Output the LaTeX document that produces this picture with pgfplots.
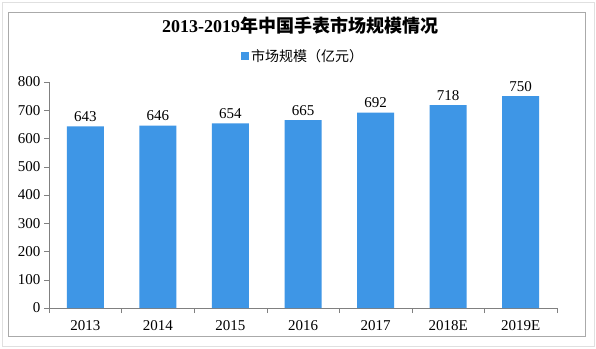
\documentclass[border=0pt]{standalone}
\usepackage{fontspec}
\setmainfont{Liberation Serif}
\newfontfamily\cjk{Noto Sans CJK SC}
\usepackage{pgfplots}
\pgfplotsset{compat=1.18}
\definecolor{barblue}{RGB}{62,150,230}
\definecolor{axgray}{RGB}{128,128,128}
\definecolor{framegray}{RGB}{170,170,170}
\begin{document}
\begin{tikzpicture}[x=1pt,y=1pt]
\useasboundingbox (0,0) rectangle (596,348);
\fill[white] (0,0) rectangle (596,348);
\draw[black!12, line width=1pt] (2,2) rectangle (594,345);
\draw[framegray, line width=0.8pt] (8,12) rectangle (585,336);
\node[font=\bfseries\fontsize{18}{20}\selectfont] at (300,322) {2013-2019{\cjk 年中国手表市场规模情况}};
\begin{axis}[
  at={(49pt,40pt)}, anchor=south west,
  scale only axis, width=508pt, height=226pt,
  xmin=-0.5, xmax=6.5, ymin=0, ymax=800,
  axis x line=bottom, axis y line=left,
  axis line style={axgray, -},
  ytick={0,100,...,800},
  xtick={0,...,6},
  xticklabels={2013,2014,2015,2016,2017,2018E,2019E},
  major x tick style={draw=none},
  minor xtick={-0.5,0.5,...,6.5},
  minor x tick style={axgray},
  minor tick length=5pt,
  major tick length=5pt,
  tick align=outside,
  y tick style={axgray},
  tick label style={font=\fontsize{15}{17}\selectfont},
  /pgf/number format/assume math mode=true,
  xticklabel style={yshift=-4pt},
  ybar, bar width=37pt,
  nodes near coords,
  every node near coord/.append style={font=\fontsize{15}{17}\selectfont, black, yshift=1pt},
  legend style={draw=none, at={(0.5,1.115)}, anchor=center, font=\cjk\fontsize{14}{16}\selectfont, inner sep=0pt},
  legend image code/.code={\fill[barblue] (0pt,-4pt) rectangle (8pt,4pt);},
  clip=false,
]
\addplot[fill=barblue, draw=none] coordinates {(0,643) (1,646) (2,654) (3,665) (4,692) (5,718) (6,750)};
\addlegendentry{市场规模（亿元）}
\end{axis}
\end{tikzpicture}
\end{document}
